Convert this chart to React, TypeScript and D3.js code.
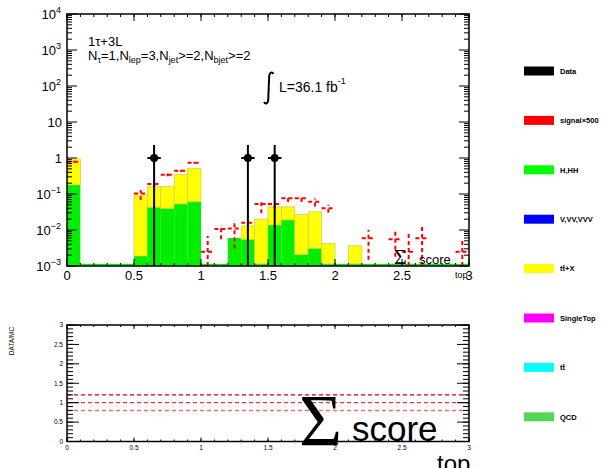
import React from 'react';
import * as d3 from 'd3';

// ---------- data ----------
const binLow = [0, 0.1, 0.2, 0.3, 0.4, 0.5, 0.6, 0.7, 0.8, 0.9, 1.0, 1.1, 1.2, 1.3, 1.4, 1.5, 1.6, 1.7, 1.8, 1.9, 2.0, 2.1, 2.2, 2.3, 2.4, 2.5, 2.6, 2.7, 2.8, 2.9];
const binWidth = 0.1;
const hhValues = [0.18, 0.00115, 0.00115, 0.00115, 0.00115, 0.0019, 0.043, 0.040, 0.053, 0.061, 0.00115, 0.00115, 0.006, 0.0055, 0.00115, 0.0138, 0.019, 0.0021, 0.0031, 0.00115, 0.00115, 0.00115, 0.00115, 0.00115, 0.00115, 0.00115, 0.00115, 0.00115, 0.00115, 0.00115];
const ttxValues = [0.77, 0, 0, 0, 0, 0.092, 0.117, 0.12, 0.297, 0.459, 0, 0, 0, 0.0075, 0.0189, 0.0302, 0.025, 0.0249, 0.0289, 0.0031, 0, 0.0025, 0, 0, 0, 0, 0, 0, 0, 0];

const sigX = [0.05, 0.55, 0.65, 0.75, 0.85, 0.95, 1.05, 1.15, 1.25, 1.35, 1.45, 1.55, 1.65, 1.75, 1.85, 1.95, 2.25, 2.45, 2.55, 2.65, 2.95];
const sigY = [0.79, 0.104, 0.19, 0.34, 0.44, 0.74, 0.0025, 0.0107, 0.011, 0.016, 0.053, 0.053, 0.076, 0.076, 0.061, 0.04, 0.0059, 0.0055, 0.0025, 0.0059, 0.0025];
const sigLo = [0.75, 0.068, 0.16, 0.31, 0.41, 0.70, 0.001, 0.0055, 0.0031, 0.009, 0.029, 0.04, 0.06, 0.06, 0.045, 0.03, 0.0015, 0.0018, 0.001, 0.001, 0.001];
const sigHi = [0.84, 0.13, 0.22, 0.37, 0.47, 0.78, 0.0068, 0.0138, 0.019, 0.026, 0.068, 0.065, 0.09, 0.09, 0.075, 0.05, 0.01, 0.0089, 0.0081, 0.0123, 0.0053];

const dataX = [0.65, 1.35, 1.55];
const dataY = [1, 1, 1];
const dataHi = [2.3, 2.3, 2.3];

const yDecades = [1e-3, 1e-2, 1e-1, 1, 10, 100, 1000, 10000];
const yTickBase = ['10', '10', '10', '1', '10', '10', '10', '10'];
const yTickExp = ['\u22123', '\u22122', '\u22121', '', '', '2', '3', '4'];
const xMajor = [0, 0.5, 1, 1.5, 2, 2.5, 3];
const xLabels = ['0', '0.5', '1', '1.5', '2', '2.5', '3'];
const ratioMajor = [0, 0.5, 1, 1.5, 2, 2.5, 3];
const ratioLabels = ['0', '0.5', '1', '1.5', '2', '2.5', '3'];
const ratioLines = [1.2, 1.0, 0.8];
const ratioLineColors = ['#cc0000', '#e43a3a', '#f07070'];

const legendLabels = ['Data', 'signal\u00d7500', 'H,HH', 'V,VV,VVV', 't\u0074\u0304+X', 'SingleTop', 't\u0074\u0304', 'QCD'];
const legendColors = ['#000000', '#ff0000', '#00ff00', '#0000ff', '#ffff00', '#ff00ff', '#00ffff', '#55d455'];

// ---------- layout ----------
const W = 604, H = 468;
const X0 = 67, X1 = 469;
const TY0 = 14, TY1 = 266;
const RY0 = 325, RY1 = 441.5;
const SANS = "'Liberation Sans', Arial, Helvetica, sans-serif";
const SERIF = "'Liberation Serif', 'Times New Roman', serif";

export default function App() {
  const x = d3.scaleLinear().domain([0, 3]).range([X0, X1]);
  const y = d3.scaleLog().domain([1e-3, 1e4]).range([TY1, TY0]).clamp(true);
  const yr = d3.scaleLinear().domain([0, 3]).range([RY1, RY0]);

  const xMinor = d3.range(0, 30.01, 1).map((v) => v / 10);
  const yMinor: number[] = [];
  for (let d = -3; d < 4; d++) for (let m = 2; m <= 9; m++) yMinor.push(m * Math.pow(10, d));
  const rMinor = d3.range(0, 30.01, 1).map((v) => v / 10);

  const tickLine = (k: string, x1: number, y1: number, x2: number, y2: number) => (
    <line key={k} x1={x1} y1={y1} x2={x2} y2={y2} stroke="#000" strokeWidth={1} />
  );

  return (
    <svg width={W} height={H} style={{ position: 'absolute', left: 0, top: 0, background: '#fff' }}>
      <defs>
        <clipPath id="topclip"><rect x={X0} y={TY0} width={X1 - X0} height={TY1 - TY0} /></clipPath>
      </defs>
      <rect x={0} y={0} width={W} height={H} fill="#fff" />

      {/* ---------- top panel histograms ---------- */}
      <g clipPath="url(#topclip)">
        {binLow.map((lo, i) => {
          const xa = x(lo), xb = x(lo + binWidth);
          const hh = hhValues[i];
          const tot = hh + ttxValues[i];
          return (
            <g key={'b' + i}>
              <rect x={xa} y={y(hh)} width={xb - xa} height={TY1 - y(hh)} fill="#00ee00" />
              {ttxValues[i] > 0 && (
                <rect x={xa} y={y(tot)} width={xb - xa} height={y(hh) - y(tot)} fill="#ffff00" stroke="#d6cc5a" strokeWidth={0.8} />
              )}
            </g>
          );
        })}
        {/* signal */}
        {sigX.map((c, i) => (
          <g key={'s' + i} stroke="#ff0000" strokeWidth={2} strokeDasharray="4 3" fill="none">
            <line x1={x(c - binWidth / 2)} x2={x(c + binWidth / 2)} y1={y(sigY[i])} y2={y(sigY[i])} />
            <line x1={x(c)} x2={x(c)} y1={y(sigLo[i])} y2={y(sigHi[i])} />
          </g>
        ))}
      </g>
      {/* data */}
      {dataX.map((c, i) => (
        <g key={'d' + i}>
          <line x1={x(c)} x2={x(c)} y1={TY1} y2={y(dataHi[i])} stroke="#000" strokeWidth={2} />
          <line x1={x(c - binWidth / 2)} x2={x(c + binWidth / 2)} y1={y(dataY[i])} y2={y(dataY[i])} stroke="#000" strokeWidth={2} />
          <circle cx={x(c)} cy={y(dataY[i])} r={4} fill="#000" />
        </g>
      ))}

      {/* ---------- top panel frame & ticks ---------- */}
      <rect x={X0} y={TY0} width={X1 - X0} height={TY1 - TY0} fill="none" stroke="#000" strokeWidth={1.5} />
      {xMinor.map((v, i) => tickLine('xt' + i, x(v), TY1, x(v), TY1 - 3))}
      {xMinor.map((v, i) => tickLine('xtt' + i, x(v), TY0, x(v), TY0 + 3))}
      {xMajor.map((v, i) => tickLine('xM' + i, x(v), TY1, x(v), TY1 - 7))}
      {xMajor.map((v, i) => tickLine('xMt' + i, x(v), TY0, x(v), TY0 + 7))}
      {yMinor.map((v, i) => tickLine('ym' + i, X0, y(v), X0 + 5, y(v)))}
      {yMinor.map((v, i) => tickLine('ymr' + i, X1, y(v), X1 - 5, y(v)))}
      {yDecades.map((v, i) => tickLine('yM' + i, X0, y(v), X0 + 10, y(v)))}
      {yDecades.map((v, i) => tickLine('yMr' + i, X1, y(v), X1 - 10, y(v)))}

      <g fontFamily={SANS} fontSize={13} fill="#000">
        {yDecades.map((v, i) => (
          <text key={'yl' + i} x={yTickExp[i] ? 61 : 62} y={y(v) + 4.5} textAnchor="end">
            {yTickBase[i]}
            {yTickExp[i] && <tspan fontSize={9} dy={-6}>{yTickExp[i]}</tspan>}
          </text>
        ))}
        {xMajor.map((v, i) => (
          <text key={'xl' + i} x={x(v)} y={280} textAnchor="middle">{xLabels[i]}</text>
        ))}
      </g>

      {/* top text */}
      <g fontFamily={SANS} fill="#000">
        <text x={88} y={46} fontSize={13}>1τ+3L</text>
        <text x={88} y={60} fontSize={13}>
          N<tspan fontSize={9} dy={3}>τ</tspan><tspan dy={-3}>=1,N</tspan><tspan fontSize={9} dy={3}>lep</tspan><tspan dy={-3}>=3,N</tspan><tspan fontSize={9} dy={3}>jet</tspan><tspan dy={-3}>&gt;=2,N</tspan><tspan fontSize={9} dy={3}>bjet</tspan><tspan dy={-3}>&gt;=2</tspan>
        </text>
        <path d="M273.5,74 C272,71.5 269.5,72.5 269.2,76 L268.2,100 C268,103.5 265.5,104.5 264,102" fill="none" stroke="#000" strokeWidth={2} />
        <text x={279} y={92} fontSize={14}>L=36.1 fb<tspan fontSize={9} dy={-8}>-1</tspan></text>
      </g>

      {/* axis title in top panel */}
      <g fill="#000">
        <text x={394} y={264} fontFamily={SERIF} fontSize={22}>Σ</text>
        <text x={419} y={264} fontFamily={SANS} fontSize={13}>score</text>
        <text x={455} y={278} fontFamily={SANS} fontSize={9}>top</text>
      </g>

      {/* ---------- ratio panel ---------- */}
      {ratioLines.map((v, i) => (
        <line key={'rl' + i} x1={X0} x2={X1} y1={yr(v)} y2={yr(v)} stroke={ratioLineColors[i]} strokeWidth={1.4} strokeDasharray="4 3" />
      ))}
      <rect x={X0} y={RY0} width={X1 - X0} height={RY1 - RY0} fill="none" stroke="#000" strokeWidth={1.5} />
      {rMinor.map((v, i) => tickLine('rm' + i, X0, yr(v), X0 + 6, yr(v)))}
      {rMinor.map((v, i) => tickLine('rmr' + i, X1, yr(v), X1 - 6, yr(v)))}
      {ratioMajor.map((v, i) => tickLine('rM' + i, X0, yr(v), X0 + 12, yr(v)))}
      {ratioMajor.map((v, i) => tickLine('rMr' + i, X1, yr(v), X1 - 12, yr(v)))}
      {xMinor.map((v, i) => tickLine('rxm' + i, x(v), RY1, x(v), RY1 - 2))}
      {xMinor.map((v, i) => tickLine('rxmt' + i, x(v), RY0, x(v), RY0 + 2))}
      {xMajor.map((v, i) => tickLine('rxM' + i, x(v), RY1, x(v), RY1 - 4))}
      {xMajor.map((v, i) => tickLine('rxMt' + i, x(v), RY0, x(v), RY0 + 4))}
      <g fontFamily={SANS} fontSize={6.5} fill="#000">
        {ratioMajor.map((v, i) => (
          <text key={'ryl' + i} x={63} y={yr(v) + 2.3} textAnchor="end">{ratioLabels[i]}</text>
        ))}
        {xMajor.map((v, i) => (
          <text key={'rxl' + i} x={x(v)} y={449.5} textAnchor="middle">{xLabels[i]}</text>
        ))}
        <text transform="translate(14,341) rotate(-90)" textAnchor="middle">DATA/MC</text>
      </g>
      <g fill="#000">
        <text x={299} y={446} fontFamily={SERIF} fontSize={74}>Σ</text>
        <text x={352} y={441} fontFamily={SANS} fontSize={35}>score</text>
        <text x={437} y={472} fontFamily={SANS} fontSize={24}>top</text>
      </g>

      {/* ---------- legend ---------- */}
      <g fontFamily={SANS} fontSize={7.5} fontWeight="bold" fill="#000">
        {legendLabels.map((lab, i) => {
          const cy = 71 + i * 49.4;
          return (
            <g key={'lg' + i}>
              <rect x={524} y={cy - 4.5} width={30} height={9} fill={legendColors[i]} />
              <text x={560} y={cy + 2.8}>{lab}</text>
            </g>
          );
        })}
      </g>
    </svg>
  );
}
